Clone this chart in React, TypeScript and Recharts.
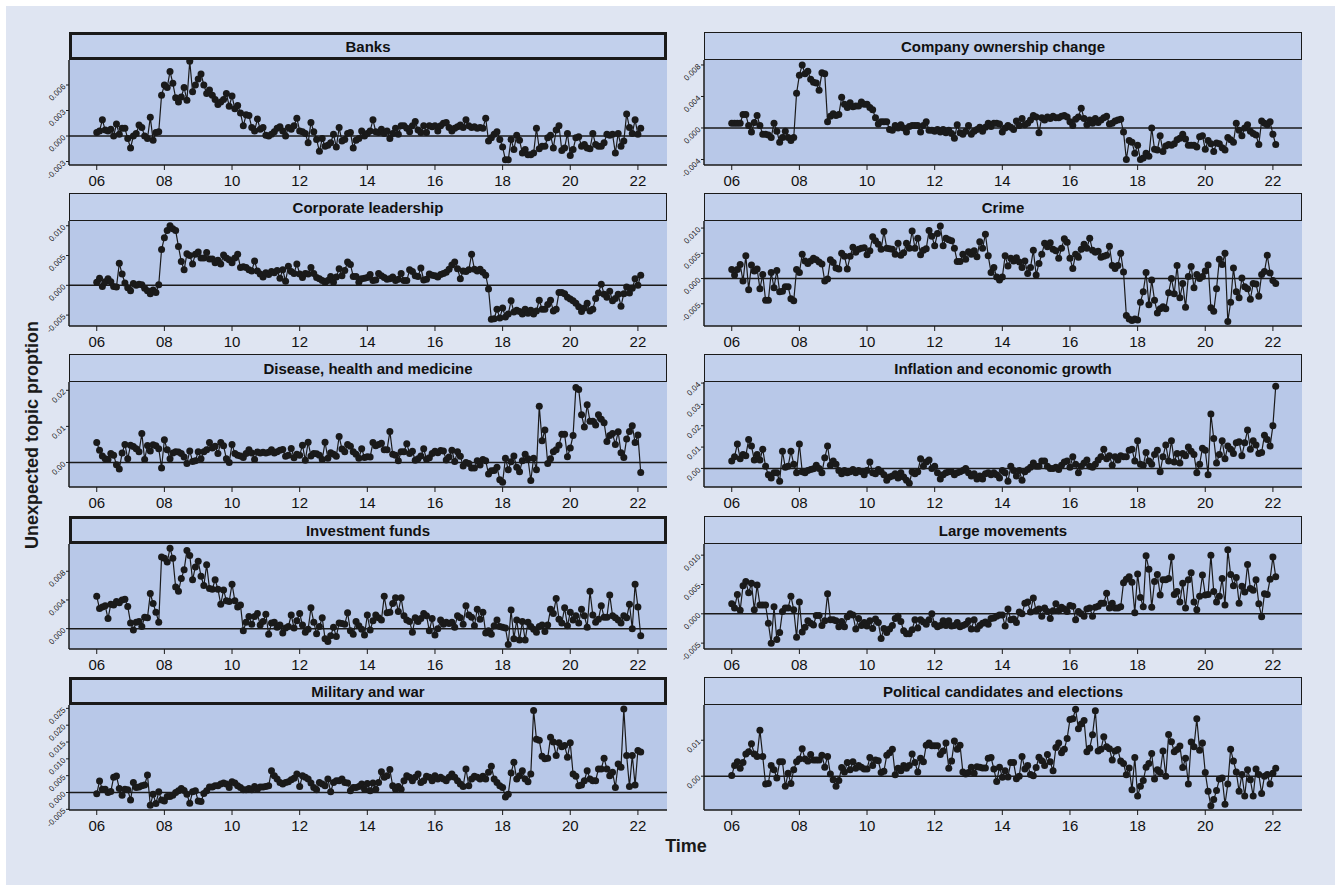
import React from "react";
import { LineChart, Line, XAxis, YAxis, ReferenceLine } from "recharts";

// Monthly series, Jan 2006 – Feb 2022, values in units of 1e-3
const banks = [
  0.4, 0.6, 1.9, 0.7, 0.6, 0.8, 0.0, 1.4, 0.2, 0.9, 0.9, -0.3,
  -1.4, 0.0, 0.3, 1.3, 1.0, 0.0, -0.3, 2.2, -0.5, 0.4, 0.5, 4.8,
  6.0, 5.7, 7.6, 6.2, 4.5, 4.0, 4.6, 5.7, 4.2, 8.8, 5.2, 6.0,
  6.7, 7.3, 6.0, 5.0, 5.4, 4.8, 4.3, 3.7, 4.0, 4.3, 5.0, 3.5,
  4.7, 3.2, 3.6, 2.7, 1.2, 2.5, 2.4, 1.0, 0.6, 2.0, 0.8, 1.0,
  0.1, 0.0, 0.2, 0.5, 0.9, 1.1, 0.6, 0.0, 1.0, 0.8, 1.2, 2.1,
  0.6, 0.5, 0.3, -0.8, 1.6, 0.5, -0.4, -1.8, -0.3, -1.2, -1.1, -0.8,
  0.2, -1.3, 1.0, -0.6, -0.4, 0.3, 0.4, -1.4, -0.5, -0.3, 0.6, 0.0,
  0.3, 0.6, 1.9, 0.5, 0.4, 0.8, 0.3, 0.6, -0.3, 0.3, 0.9, 0.2,
  1.2, 1.2, 0.9, 0.5, 1.2, 1.7, 0.7, 0.4, 1.2, 0.4, 1.2, 1.1,
  1.2, 0.6, 1.2, 1.5, 1.6, 1.0, 0.6, 0.9, 1.1, 1.3, 1.0, 1.9,
  1.2, 1.0, 1.1, 0.9, 1.0, 0.9, 2.1, -0.6, -0.2, 0.2, 0.5, -0.4,
  -1.3, -2.8, -2.8, -0.4, -1.6, 0.1, -0.5, -2.0, -1.6, -2.2, -2.2, -2.0,
  0.9, -1.5, -1.2, -1.2, -0.2, 0.1, -1.4, 0.7, 1.2, -1.7, -1.4, 0.3,
  -2.3, -1.6, -0.2, -0.1, -1.2, -1.0, -1.4, -1.5, 0.3, -1.0, -1.2, -1.2,
  -0.8, 0.2, 0.1, 0.2, -2.0, 0.3, -1.2, -0.6, 2.6, 1.0, 0.3, 1.9,
  0.2, 0.9,
];

const ownership = [
  0.6, 0.6, 0.6, 0.6, 1.7, 1.7, 0.3, -0.5, 0.7, 1.6, 0.3, -0.8,
  -0.8, -0.9, -1.2, 0.6, -0.4, -1.8, -1.2, -0.4, -1.2, -1.6, -1.2, 4.4,
  6.7, 8.0, 6.9, 7.2, 6.2, 5.8, 5.7, 4.8, 7.0, 6.9, 0.8, 1.5,
  1.8, 1.6, 1.7, 3.9, 3.0, 2.6, 3.2, 2.7, 2.8, 2.8, 3.3, 3.0,
  3.0, 2.6, 2.3, 1.3, 0.5, 0.8, 0.8, 0.8, -0.2, -0.3, 0.3, 0.0,
  0.4, 0.0, -0.5, 0.2, 0.3, 0.3, 0.3, -0.5, 0.3, 0.8, -0.3, -0.3,
  -0.4, -0.2, -0.5, -0.2, -0.6, -0.3, -0.7, -1.3, 0.4, -0.6, -0.8, -0.4,
  0.3, -0.8, -0.4, -0.2, 0.1, -0.4, 0.1, 0.6, 0.2, 0.6, 0.6, 0.5,
  -0.5, 0.0, 0.3, 0.1, -0.2, 0.9, 0.3, 1.2, 0.4, 0.6, 1.0, 1.6,
  1.4, -0.6, 1.3, 1.0, 1.4, 1.2, 1.5, 1.3, 1.3, 1.5, 1.6, 1.4,
  0.8, 0.3, 1.1, 1.4, 2.5, 1.2, 0.4, 1.0, 0.6, 1.2, 0.7, 1.0,
  1.3, 1.5, 0.5, 0.6, 0.9, 1.0, 1.1, -0.5, -4.0, -1.6, -1.8, -3.2,
  -2.2, -4.0, -3.8, -3.2, -3.6, 0.0, -2.7, -2.8, -1.0, -3.0, -2.3, -2.1,
  -2.2, -2.0, -1.5, -1.3, -0.8, -1.4, -2.2, -2.2, -2.2, -2.4, -1.1, -1.0,
  -2.7, -1.6, -2.0, -3.0, -1.9, -2.0, -2.5, -2.8, -1.2, -1.5, -1.8, 0.6,
  -0.3, -1.0, 0.0, 0.4, -0.4, -0.7, -0.9, -2.1, 0.9, 0.6, 0.4, 0.8,
  -0.8, -2.1,
];

const leadership = [
  0.5, 1.2, -0.2, 0.6, 1.1, 0.6, -0.2, -0.3, 3.7, 1.9, 0.4, -0.4,
  -0.9, 0.3, 0.0, 0.2, 0.1, -0.5, -0.9, -1.4, -0.8, -1.2, 0.1, 6.0,
  8.0, 9.2, 10.0, 9.5, 9.2, 6.5, 4.0, 2.6, 5.3, 5.0, 3.6, 5.2,
  5.6, 4.6, 4.6, 5.5, 4.4, 4.4, 3.8, 4.2, 3.6, 5.1, 4.6, 4.3,
  3.8, 4.6, 5.2, 3.0, 3.1, 3.0, 2.6, 2.4, 4.1, 2.4, 1.9, 1.4,
  2.1, 1.8, 2.3, 2.1, 2.5, 1.2, 2.6, 0.7, 3.2, 2.3, 2.0, 3.6,
  1.9, 1.3, 2.0, 1.9, 3.0, 2.0, 1.3, 1.1, 0.8, 0.5, 0.8, 1.5,
  0.5, 1.4, 2.8, 1.6, 2.5, 3.9, 3.5, 1.5, 1.5, 0.5, 1.1, 1.2,
  1.3, 1.8, 0.8, 0.9, 2.0, 1.6, 1.3, 1.0, 1.1, 1.4, 0.8, 1.0,
  2.0, 0.8, 0.8, 2.6, 2.3, 1.6, 1.5, 2.9, 0.9, 1.0, 1.9, 1.7,
  1.6, 1.4, 1.8, 2.0, 2.2, 2.7, 3.4, 3.9, 2.8, 1.1, 2.4, 2.3,
  2.6, 5.2, 2.7, 2.4, 2.7, 2.2, 1.7, -0.6, -5.7, -5.6, -4.0, -5.5,
  -3.8, -5.3, -4.8, -2.6, -4.5, -4.2, -4.4, -4.8, -4.0, -4.7, -4.2, -4.8,
  -4.3, -2.5, -4.0, -4.0, -3.2, -2.5, -4.3, -4.0, -1.2, -1.2, -1.4, -2.0,
  -2.3, -2.6, -3.0, -3.6, -4.4, -3.8, -3.0, -4.3, -4.0, -2.2, -1.3, 0.2,
  -1.5, -2.0, -1.0, -2.6, -2.2, -1.5, -3.5, -1.4, -0.3, -1.3, -0.5, 1.1,
  0.0, 1.7,
];

const crime = [
  1.8, 0.7, 1.8, 2.8, -0.5, 4.5, -2.2, 2.7, 1.5, 1.9, -2.0, 0.8,
  -4.3, -4.3, 1.2, -1.8, 1.6, -2.6, -2.5, -1.6, -1.6, -4.0, -4.4, 1.8,
  1.2, 4.8, 3.5, 3.0, 3.5, 4.0, 3.7, 3.3, 2.9, -0.5, -0.1, 3.7,
  3.2, 2.1, 1.9, 5.0, 4.4, 1.9, 4.4, 6.2, 5.2, 5.8, 6.0, 6.1,
  4.7, 5.5, 8.3, 7.5, 6.8, 5.8, 9.3, 6.0, 5.9, 5.8, 4.8, 7.0,
  4.6, 5.1, 7.0, 6.0, 9.4, 6.0, 8.0, 4.7, 5.6, 5.9, 9.5, 8.4,
  6.5, 8.9, 10.4, 6.5, 8.0, 7.7, 7.5, 6.0, 3.4, 3.4, 4.8, 3.8,
  5.3, 4.8, 5.5, 4.3, 7.3, 6.0, 8.8, 4.5, 1.2, 2.2, 0.3, -0.3,
  0.3, 4.5, 2.5, 4.0, 3.5, 4.1, 3.3, 2.2, 3.5, 1.0, 2.2, 5.6,
  0.7, 3.0, 4.8, 7.0, 6.3, 7.1, 5.8, 5.5, 4.0, 6.0, 7.9, 7.2,
  4.0, 2.0, 4.8, 4.2, 5.8, 6.8, 6.0, 8.0, 5.6, 5.2, 5.4, 4.2,
  4.4, 4.6, 6.4, 2.6, 2.0, 2.6, 5.0, 1.3, -7.3, -8.0, -8.3, -8.0,
  -8.2, -4.7, -2.6, 1.2, -5.2, -0.3, -4.3, -6.8, -6.0, -5.6, -6.0, -2.8,
  0.0, -3.0, 2.6, -3.8, -1.0, -5.7, 0.4, 2.4, -1.8, 0.8, 0.0, 0.4,
  1.5, 2.7, -5.8, -6.5, -2.0, 3.8, 2.8, 5.0, -8.5, -4.7, 2.1, -2.6,
  -3.8, 0.1, -1.6, -2.0, -4.1, -1.0, -1.1, -3.5, 0.8, 1.4, 4.6, 1.1,
  -0.4, -1.0,
];

const disease = [
  5.5, 3.4, 1.8, 1.0, 0.8, 2.5, 2.0, -0.6, -1.8, 2.6, 5.0, 1.0,
  4.8, 4.4, 3.8, 3.0, 8.0, 0.8, 4.7, 3.2, 4.9, 4.6, 3.8, -1.5,
  6.3, 3.5, 1.0, 2.6, 3.0, 2.9, 2.5, 1.5, -0.3, 3.2, 0.3, 0.5,
  3.0, 1.0, 3.0, 3.5, 5.5, 4.0, 4.5, 2.5, 5.5, 4.6, 1.0, 0.0,
  5.0, 2.5, 2.0, 1.8, 1.4, 2.5, 3.5, 2.6, 0.8, 2.9, 2.6, 2.8,
  2.6, 2.8, 3.5, 2.6, 3.0, 3.4, 3.6, 1.7, 2.0, 3.9, 1.3, 2.3,
  2.0, 4.8, 0.6, 5.6, 1.8, 2.5, 2.4, 2.0, 0.8, 5.6, 1.2, 2.7,
  2.3, 1.7, 7.2, 3.7, 3.0, 5.0, 4.5, 3.0, 2.3, 1.2, 3.8, 1.4,
  1.6, 1.5, 5.5, 4.6, 5.0, 5.3, 3.5, 3.5, 8.6, 2.3, 2.0, 0.5,
  3.0, 3.0, 5.2, 2.5, 3.1, 0.6, 1.0, 1.8, 3.8, 0.9, 1.3, 2.5,
  3.1, 2.7, 3.3, 3.2, 0.7, 1.5, 3.4, 0.3, 3.0, 1.7, -1.0, 0.0,
  -0.3, -1.5, -1.5, 0.5, -0.7, 0.8, 0.5, -3.2, -2.3, -2.2, -1.3, -4.8,
  -5.5, 1.2, -2.0, 0.2, 1.8, -1.3, -2.6, 0.5, 2.3, 1.0, -5.0, 1.2,
  -2.0, 15.6, 6.0, 9.0, -0.3, 1.0, 3.0, 3.5, 4.8, 7.8, 7.8, 1.6,
  4.0, 7.5, 20.8, 20.2, 13.2, 9.8, 16.0, 11.4, 11.4, 10.4, 13.2, 12.0,
  11.0, 5.8, 7.5, 8.0, 5.0, 8.5, 2.7, 1.4, 6.5, 8.6, 10.2, 5.5,
  7.6, -2.8,
];

const inflation = [
  3.5, 5.5, 11.5, 4.5, 6.5, 6.0, 13.5, 10.5, 4.0, 6.5, 4.0, 9.0,
  1.0, -3.0, -4.5, -2.0, -2.0, -6.0, 8.0, 0.5, 1.0, 8.0, 2.0, -2.0,
  11.5, -1.5, -2.0, -1.0, -0.5, -0.2, 1.5, 0.0, -2.0, 5.0, 10.5, 1.5,
  3.5, 2.0, -1.0, -2.5, -1.0, -2.0, -1.5, -0.5, -2.0, -1.0, -1.5, -3.0,
  -1.0, 3.0, -2.0, -2.5, -0.5, -1.5, -3.0, -5.5, -4.0, -3.5, -2.5, -4.5,
  -2.0, -4.0, -5.5, -7.0, -1.5, -2.5, -1.5, 4.5, 1.0, 3.0, 4.0, 0.0,
  1.0, -2.0, -5.0, -3.0, -2.0, -1.5, -1.5, -3.0, -2.0, -1.5, -1.0, 0.0,
  -2.0, -3.5, -2.5, -5.0, -3.5, -5.0, -2.5, -2.0, -3.0, -2.0, -3.0, -4.5,
  -1.0, -2.0, -6.0, 1.0, -1.0, -3.5, -1.0, -5.5, -1.5, -0.5, 0.5, 2.5,
  1.0, 1.0, 3.5, 3.5, 1.0, 0.0, 0.0, 0.5, -0.5, 1.5, 3.0, 3.5,
  0.5, 5.5, 2.0, -2.0, 1.0, 2.5, 4.0, 1.0, 0.5, 2.0, 4.0, 5.5,
  9.0, 4.5, 6.0, 1.5, 5.5, 4.0, 6.0, 5.5, 5.5, 8.5, 9.0, 3.5,
  13.0, 2.0, 1.5, 7.5, 3.5, 2.0, 6.5, 8.5, -1.5, 5.5, 11.0, 3.5,
  13.0, 3.0, 7.0, 2.5, 7.0, 6.0, 10.0, 8.0, 6.5, -2.0, 2.0, 9.5,
  8.5, -3.0, 25.5, 14.0, 2.5, 6.5, 13.0, 4.5, 10.5, 9.0, 7.0, 12.0,
  12.5, 6.0, 12.0, 18.0, 9.0, 13.0, 11.0, 7.0, 7.5, 15.5, 13.5, 10.5,
  20.0, 38.5,
];

const funds = [
  4.5, 2.8, 3.0, 3.2, 1.4, 3.4, 3.3, 3.8, 3.6, 4.0, 4.1, 3.1,
  0.8, -0.2, 0.9, 1.0, 0.3, 1.6, 1.5, 4.9, 3.5, 2.3, 0.9, 10.0,
  9.8, 9.3, 11.2, 9.8, 5.8, 5.2, 7.0, 8.2, 10.9, 10.2, 6.8, 8.6,
  9.4, 7.3, 6.0, 8.9, 5.6, 5.5, 6.8, 5.5, 3.4, 5.4, 3.9, 3.8,
  6.2, 3.9, 3.0, 3.3, -0.3, 0.9, 1.7, 0.6, 1.7, 2.1, 0.5, 1.0,
  2.0, -0.8, 0.8, 0.9, 0.2, 0.5, -0.6, 0.1, 0.3, 1.9, 0.1, 1.1,
  2.1, 0.5, -0.5, -0.1, 2.9, 0.9, -0.7, 0.3, 1.5, -1.4, -1.8, -1.0,
  0.2, -1.1, 0.8, 0.7, 0.6, 2.2, -0.3, -0.8, 1.0, 0.4, -0.1, -0.9,
  1.9, -0.2, 1.1, 1.9, 1.5, 1.2, 4.5, 2.2, 2.3, 3.5, 4.3, 2.4,
  4.3, 1.8, 1.2, 1.0, -0.5, 1.5, 1.0, 1.4, 2.1, 1.8, -0.3, 1.4,
  -0.9, 0.0, 1.2, 0.6, 0.9, 0.7, 0.9, 0.2, 1.8, 1.5, 0.6, 3.2,
  1.9, 1.6, 0.4, 2.7, 1.3, 2.3, -0.6, -0.3, -0.8, 0.4, 1.2, 0.3,
  0.2, 0.1, -2.2, 2.6, -1.4, 1.2, -1.6, 1.0, -1.6, 0.9, 0.3, -0.1,
  -0.5, 0.3, 0.5, -0.4, 0.5, 2.7, 2.1, 4.2, 1.3, 0.8, 2.9, 0.4,
  2.3, 1.2, 1.8, 0.8, 2.7, 1.8, 0.2, 5.2, 1.9, 0.9, 1.3, 3.2,
  1.6, 1.6, 4.7, 1.8, 1.5, 1.2, 0.8, 1.8, 1.5, 3.4, 0.0, 6.2,
  3.0, -1.0,
];

const movements = [
  1.7, 1.0, 3.3, 0.6, 4.8, 5.5, 3.6, 5.2, 0.7, 4.9, 1.5, 1.5,
  1.5, -1.6, -5.0, 1.2, -4.4, -3.2, 0.4, 1.0, 1.0, 3.0, 0.7, -4.0,
  2.0, -3.1, -2.3, -1.2, -1.6, -1.9, -0.3, -0.3, -2.0, -1.2, 3.4, -1.0,
  -1.0, -1.2, -2.2, -1.3, -2.2, -0.5, 0.0, -0.2, -2.6, -0.8, -2.0, -1.5,
  -2.1, -1.2, -2.5, -0.9, -1.5, -4.2, -2.5, -3.2, -2.6, -2.0, -0.8, -0.4,
  -1.3, -2.9, -3.4, -3.4, -2.7, -1.0, -2.4, -1.0, -1.4, -1.8, -1.0, 0.0,
  -1.8, -2.2, -2.0, -1.2, -2.0, -1.2, -2.1, -2.0, -1.5, -2.2, -2.0, -1.8,
  -1.2, -2.6, -1.0, -2.6, -2.0, -1.6, -1.4, -1.8, -0.8, -0.7, -0.4, -0.2,
  -0.2, -2.1, 0.8, -1.0, -0.9, -1.5, 0.3, 0.0, 1.8, 2.0, 0.3, 2.7,
  0.5, 0.8, -0.4, 1.0, 0.4, -0.8, 0.5, 1.7, 0.5, 1.1, 0.8, 0.4,
  1.4, 1.3, -1.0, 0.4, 0.0, -0.4, 0.8, 1.0, -0.4, 1.1, 1.3, 1.8,
  1.8, 3.5, 1.0, 1.8, 1.0, 1.0, 1.2, 5.3, 5.9, 6.3, 5.4, 0.2,
  6.8, 2.8, 1.2, 9.9, 7.6, 1.1, 5.5, 6.7, 3.2, 5.8, 5.8, 6.0,
  9.7, 3.3, 3.8, 2.0, 5.2, 1.0, 5.8, 7.0, 2.0, 0.7, 3.0, 6.6,
  3.2, 3.3, 10.0, 3.8, 2.0, 3.0, 6.0, 1.5, 10.9, 6.7, 4.8, 6.2,
  1.8, 4.7, 3.7, 8.4, 4.3, 4.0, 5.8, 1.7, -0.5, 3.4, 3.3, 5.9,
  9.7, 6.3,
];

const military = [
  -0.4, 3.4, 1.0, 1.0, 0.0, 0.3, 4.5, 4.9, 1.2, -0.8, 1.0, 0.8,
  -2.2, 3.0, 1.5, 1.6, 2.0, 2.2, 5.2, -3.8, -0.5, -3.3, 0.2, -2.2,
  -2.5, -1.2, -1.2, -0.8, 0.0, 0.5, 1.2, 0.6, -0.5, -3.2, 0.2, 0.5,
  -2.5, -2.7, -0.3, 0.5, 1.6, 1.6, 2.0, 2.0, 2.5, 2.8, 2.5, 1.5,
  3.2, 2.8, 2.0, 1.5, 0.8, 0.8, 1.2, 0.8, 1.8, 1.0, 1.6, 1.6,
  1.8, 2.0, 6.5, 5.0, 4.0, 3.0, 2.5, 3.0, 3.2, 3.8, 4.2, 5.5,
  1.8, 5.0, 4.5, 4.0, 2.8, 1.5, 0.8, 3.0, 2.5, 2.0, 4.0, 0.2,
  3.0, 3.5, 3.5, 4.0, 3.0, 2.8, 0.5, 1.5, 1.5, 1.8, 2.5, 1.0,
  2.7, 0.5, 2.8, 1.0, 3.0, 6.2, 4.5, 5.0, 6.8, 2.0, 1.0, 1.8,
  1.0, 3.5, 5.0, 4.5, 3.5, 4.5, 5.5, 3.0, 3.5, 4.8, 4.5, 3.5,
  5.0, 4.0, 4.5, 4.0, 3.5, 4.5, 5.5, 4.5, 3.5, 2.5, 1.8, 7.0,
  2.0, 4.0, 4.8, 4.5, 4.0, 4.8, 4.0, 6.0, 7.8, 4.0, 3.0, 2.0,
  1.5, -1.3, -0.5, 5.8, 9.0, 4.0, 5.0, 6.5, 4.0, 3.2, 5.5, 24.4,
  15.8, 15.5, 10.8, 10.0, 10.2, 16.4, 15.0, 11.0, 14.8, 13.6, 14.0, 10.5,
  14.8, 5.5, 4.8, 2.0, 2.2, 3.5, 6.5, 4.0, 3.5, 3.5, 7.0, 7.0,
  10.2, 7.0, 5.0, 6.0, 1.5, 8.5, 7.5, 24.8, 11.0, 1.8, 11.0, 2.2,
  12.5, 12.0,
];

const elections = [
  0.2, 3.0, 4.0, 2.2, 3.8, 6.2, 6.8, 9.0, 6.2, 5.5, 12.8, 5.5,
  -2.2, -2.0, 3.0, 1.8, -0.5, 4.0, 4.0, -2.8, 0.8, -2.0, 1.8, 4.0,
  4.8, 7.6, 4.8, 4.2, 6.0, 4.5, 4.5, 4.5, 5.8, 2.5, 5.5, 0.6,
  -1.0, -2.8, -1.2, 2.4, 1.2, 3.8, 1.8, 4.0, 2.2, 3.0, 2.5, 2.0,
  2.0, 5.2, 3.0, 4.5, 4.3, 1.0, 1.4, 5.8, 6.5, 7.5, 0.4, 2.2,
  1.5, 3.0, 2.2, 3.0, 6.2, 3.8, 1.2, 5.0, 4.0, 8.6, 9.2, 8.5,
  8.5, 8.5, 6.0, 7.0, 9.2, 2.2, 4.2, 9.8, 7.5, 8.6, 1.2, 0.6,
  1.0, 2.5, 0.8, 2.6, 2.5, 2.3, 2.3, 5.0, 5.2, 2.0, -1.5, 2.5,
  -0.3, 1.5, -0.2, 3.8, 3.8, -0.7, 0.0, 5.5, 2.0, 3.0, 0.5, 0.1,
  2.4, 5.3, 4.3, 3.0, 6.0, 4.0, 1.5, 8.0, 9.2, 6.5, 7.5, 10.5,
  15.8, 16.0, 18.6, 13.2, 14.5, 15.5, 6.8, 7.8, 11.5, 18.2, 7.0, 7.5,
  11.0, 8.2, 7.6, 4.5, 7.0, 7.4, 4.2, 3.5, 0.4, 2.3, -3.8, 5.2,
  -5.5, -2.8, -1.2, 2.5, 3.5, 6.3, -0.8, 1.8, 1.0, 7.0, 0.0, 11.6,
  9.6, 6.8, 7.4, 8.4, 2.4, 5.0, -2.2, 9.5, 8.2, 16.0, 7.2, 9.2,
  1.0, -4.2, -8.2, -6.5, -4.0, -0.8, -0.5, -7.8, -2.2, 7.5, 4.2, 1.2,
  -4.2, 0.5, -5.5, 1.8, -1.0, -5.5, 2.0, 0.5, -4.8, 0.0, 0.5, -2.2,
  0.8, 2.2,
];

const yearTicks = [2006, 2008, 2010, 2012, 2014, 2016, 2018, 2020, 2022];

const panels = [
  { title: "Banks", values: banks, domain: [-3.41, 8.94], ticks: [-3, 0, 3, 6], digits: 3, thick: true },
  { title: "Company ownership change", values: ownership, domain: [-4.7, 8.63], ticks: [-4, 0, 4, 8], digits: 3, thick: false },
  { title: "Corporate leadership", values: leadership, domain: [-6.83, 10.8], ticks: [-5, 0, 5, 10], digits: 3, thick: false },
  { title: "Crime", values: crime, domain: [-9.4, 11.4], ticks: [-5, 0, 5, 10], digits: 3, thick: false },
  { title: "Disease, health and medicine", values: disease, domain: [-6.8, 22.3], ticks: [0, 10, 20], digits: 2, thick: false },
  { title: "Inflation and economic growth", values: inflation, domain: [-8.7, 40.5], ticks: [0, 10, 20, 30, 40], digits: 2, thick: false },
  { title: "Investment funds", values: funds, domain: [-2.84, 11.8], ticks: [0, 4, 8], digits: 3, thick: true },
  { title: "Large movements", values: movements, domain: [-6.0, 11.9], ticks: [-5, 0, 5, 10], digits: 3, thick: false },
  { title: "Military and war", values: military, domain: [-5.2, 26.0], ticks: [-5, 0, 5, 10, 15, 20, 25], digits: 3, thick: true },
  { title: "Political candidates and elections", values: elections, domain: [-9.4, 19.8], ticks: [0, 10], digits: 2, thick: false },
];

const FONT = "'Liberation Sans', Arial, Helvetica, sans-serif";
const INK = "#1a1a1a";
const PAGE_BG = "#dfe5f2";
const PLOT_BG = "#b8c8e8";
const STRIP_BG = "#c2d0ec";

const PLOT_W = 598;
const PLOT_H = 105;
const COL_X = [69, 704];
const ROW_Y = [60, 221, 382, 544, 705];
const AXIS_W = 50;
const TOP_PAD = 6;

function YTick(props: any) {
  const { x, y, payload, digits } = props;
  const label = Number(payload.value).toFixed(digits);
  return (
    <text
      x={x}
      y={y}
      dy={3}
      transform={`rotate(-45 ${x} ${y})`}
      textAnchor="end"
      fontSize={8}
      fontFamily={FONT}
      fill="#222"
    >
      {label}
    </text>
  );
}

function Panel({ p, index }: { p: (typeof panels)[number]; index: number }) {
  const col = index % 2;
  const row = Math.floor(index / 2);
  const left = COL_X[col];
  const top = ROW_Y[row];
  const data = p.values.map((v, i) => ({ t: 2006 + i / 12, v: v / 1000 }));
  const domain = p.domain.map((d) => d / 1000);
  const ticks = p.ticks.map((d) => d / 1000);

  return (
    <>
      <div
        style={{
          position: "absolute",
          left,
          top,
          width: PLOT_W,
          height: PLOT_H,
          background: PLOT_BG,
        }}
      />
      <div
        style={{
          position: "absolute",
          left,
          top: top - 28,
          width: PLOT_W,
          height: 28,
          boxSizing: "border-box",
          border: `${p.thick ? 3 : 1.5}px solid ${INK}`,
          background: STRIP_BG,
          display: "flex",
          alignItems: "center",
          justifyContent: "center",
          fontFamily: FONT,
          fontWeight: 700,
          fontSize: 15,
          color: "#111",
        }}
      >
        {p.title}
      </div>
      <div style={{ position: "absolute", left: left - AXIS_W, top: top - TOP_PAD }}>
        <LineChart
          width={PLOT_W + AXIS_W + 2}
          height={PLOT_H + TOP_PAD + 32}
          data={data}
          margin={{ top: TOP_PAD, right: 2, left: 0, bottom: 0 }}
        >
          <XAxis
            type="number"
            dataKey="t"
            domain={[2005.18, 2022.86]}
            ticks={yearTicks}
            interval={0}
            allowDataOverflow
            tickFormatter={(y: number) => String(y).slice(2)}
            tick={{ fontSize: 15, fill: "#111", fontFamily: FONT }}
            tickSize={5}
            tickMargin={5}
            tickLine={{ stroke: INK }}
            axisLine={{ stroke: INK, strokeWidth: 1.5 }}
            height={32}
          />
          <YAxis
            type="number"
            domain={domain}
            ticks={ticks}
            interval={0}
            allowDataOverflow
            width={AXIS_W}
            tickSize={3}
            tickMargin={2}
            tick={<YTick digits={p.digits} />}
            tickLine={{ stroke: INK }}
            axisLine={{ stroke: INK, strokeWidth: 1.5 }}
          />
          <ReferenceLine y={0} stroke={INK} strokeWidth={1.5} />
          <Line
            type="linear"
            dataKey="v"
            stroke={INK}
            strokeWidth={1.2}
            dot={{ r: 3.5, fill: INK, stroke: INK, strokeWidth: 0 }}
            activeDot={false}
            isAnimationActive={false}
          />
        </LineChart>
      </div>
    </>
  );
}

export default function App() {
  return (
    <div
      style={{
        position: "absolute",
        left: 0,
        top: 0,
        width: 1341,
        height: 888,
        background: "#ffffff",
        overflow: "hidden",
      }}
    >
      <div
        style={{
          position: "absolute",
          left: 6,
          top: 6,
          width: 1329,
          height: 879,
          background: PAGE_BG,
        }}
      />
      {panels.map((p, i) => (
        <Panel key={p.title} p={p} index={i} />
      ))}
      <div
        style={{
          position: "absolute",
          left: 32,
          top: 435,
          transform: "translate(-50%, -50%) rotate(-90deg)",
          whiteSpace: "nowrap",
          fontFamily: FONT,
          fontWeight: 700,
          fontSize: 18,
          color: INK,
        }}
      >
        Unexpected topic proption
      </div>
      <div
        style={{
          position: "absolute",
          left: 686,
          top: 846,
          transform: "translate(-50%, -50%)",
          fontFamily: FONT,
          fontWeight: 700,
          fontSize: 18,
          color: INK,
        }}
      >
        Time
      </div>
    </div>
  );
}
